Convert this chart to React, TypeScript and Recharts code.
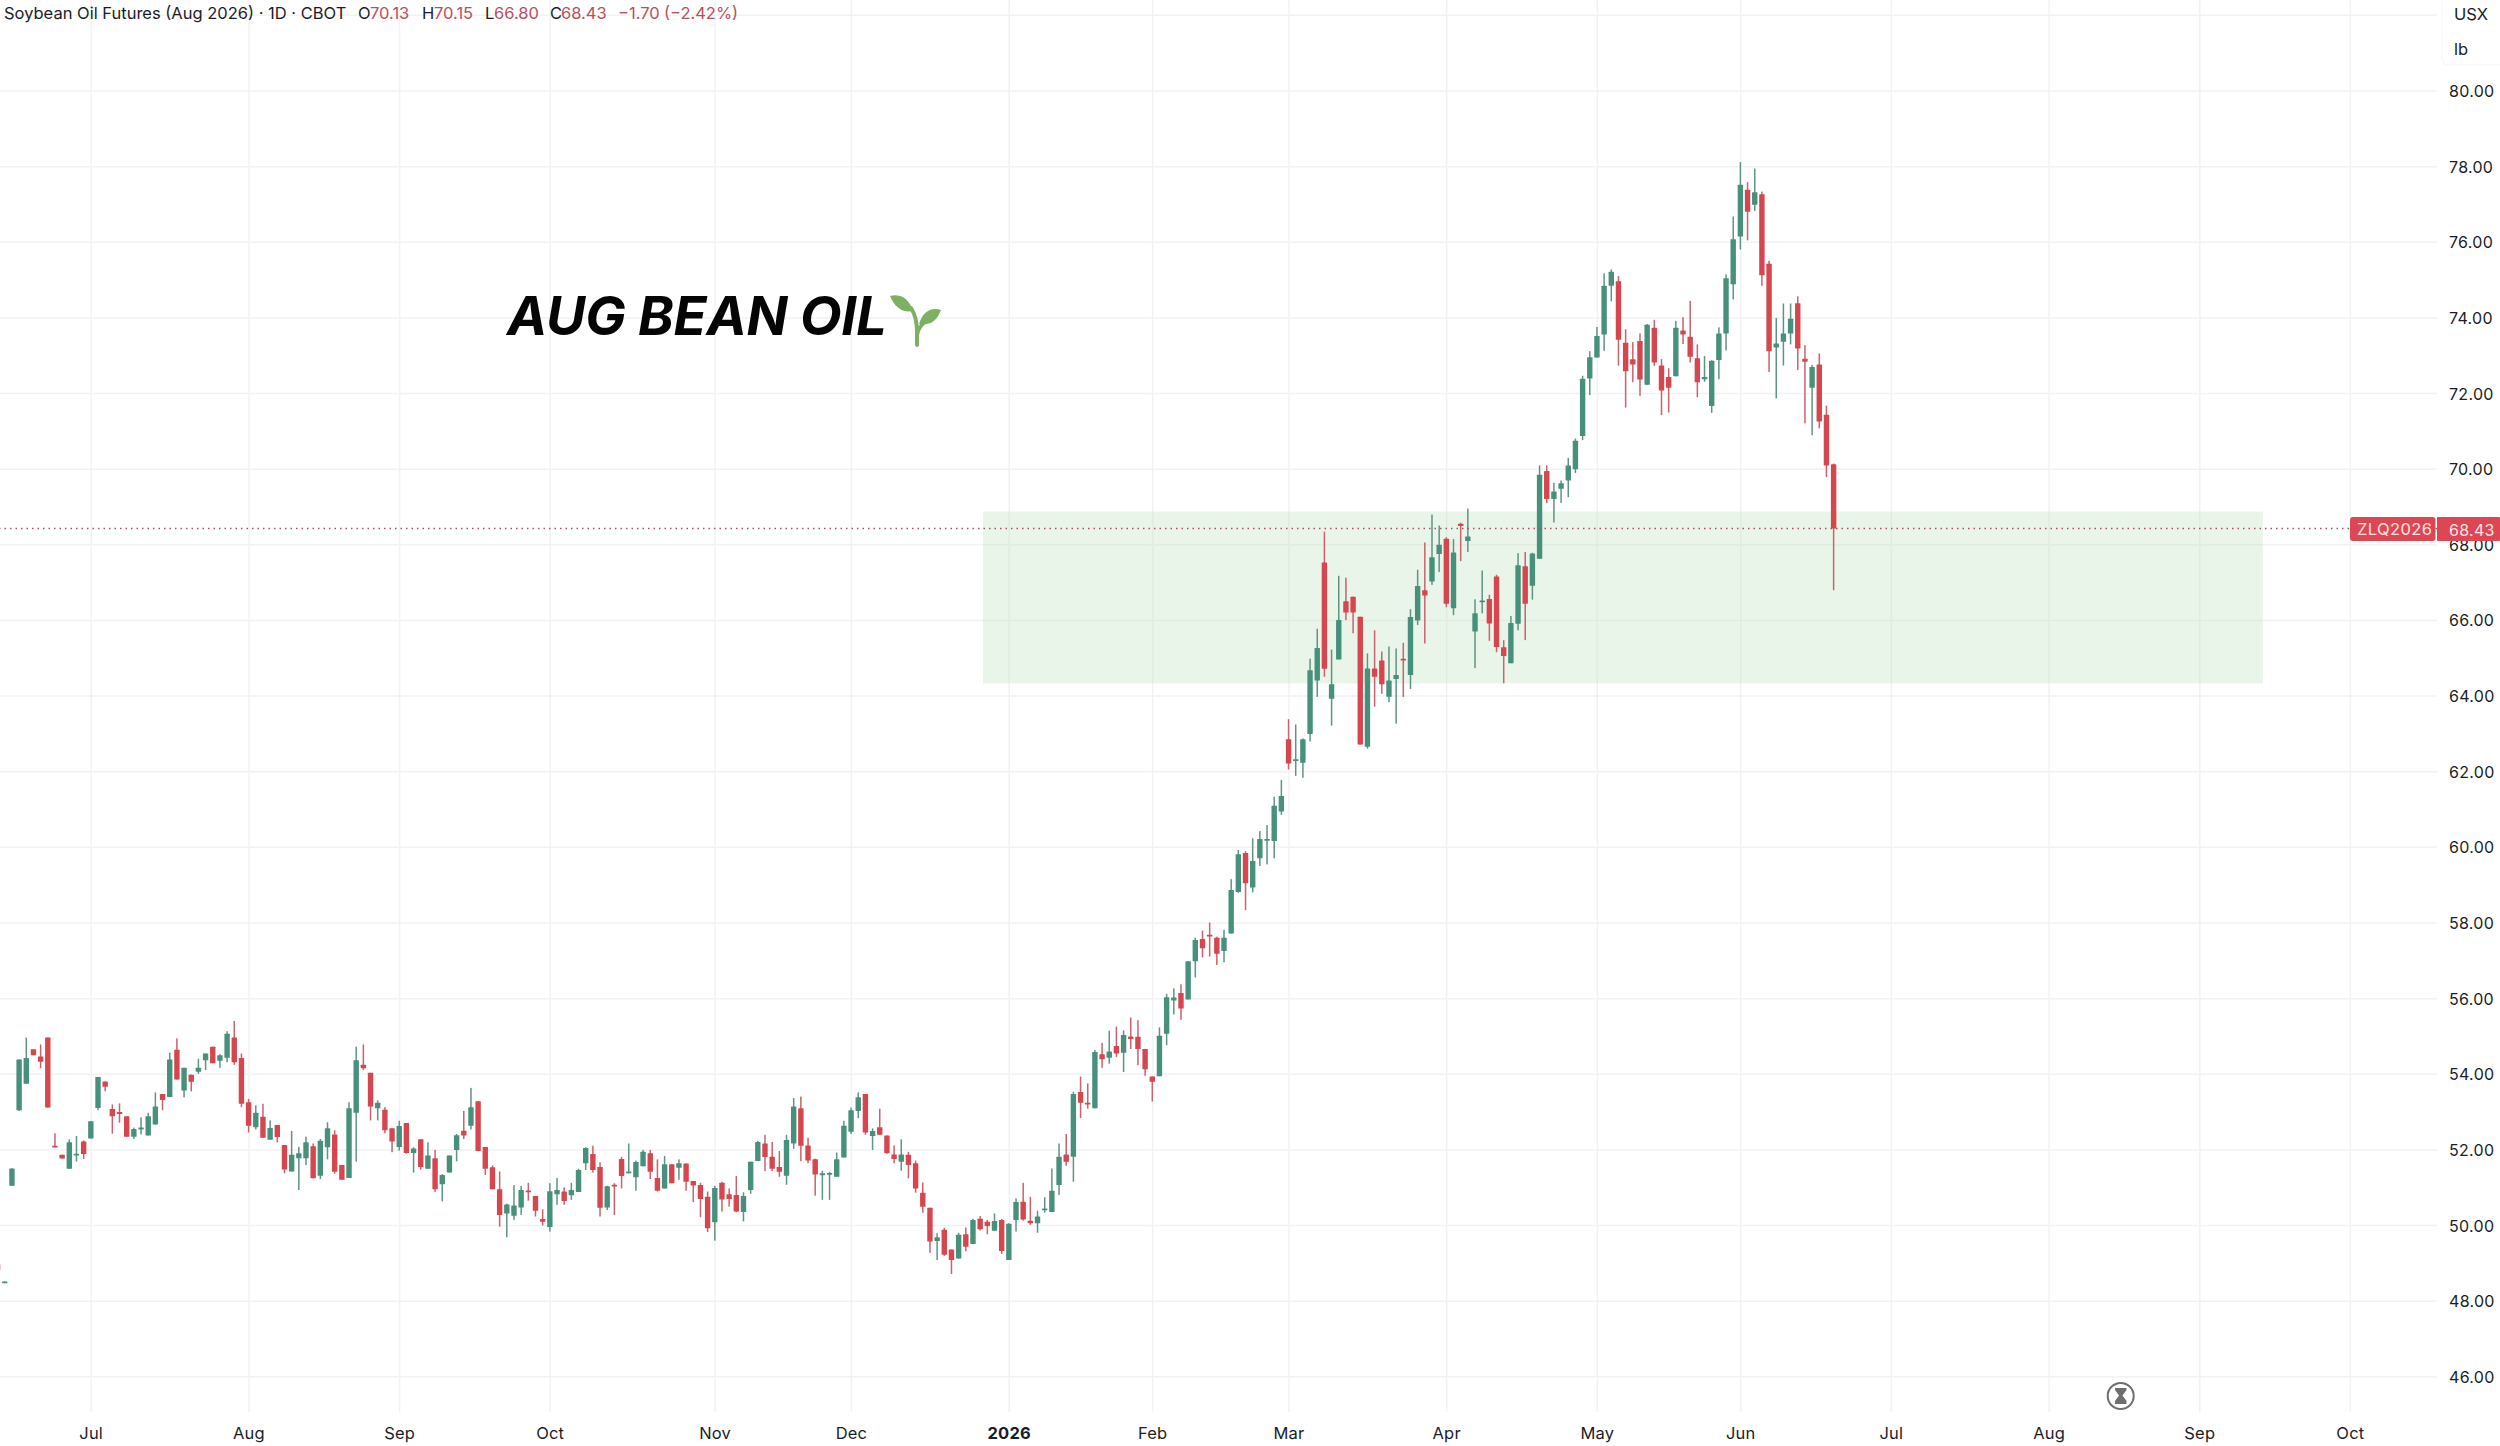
import React from "react";
import { ComposedChart, Bar, XAxis, YAxis, CartesianGrid, ReferenceArea, ReferenceLine } from "recharts";

// Daily OHLC, first entry is two sessions before the first full candle on screen
const opens = [
  48.98,48.48,51.05,53.05,53.75,54.66,54.47,54.97,52.11,51.87,
  51.50,51.87,52.22,52.30,53.11,53.81,53.08,53.00,52.89,52.35,
  52.56,52.38,52.67,53.48,53.40,54.65,53.57,53.99,54.07,54.37,
  54.73,54.36,54.44,54.97,54.43,53.26,52.60,52.88,52.27,52.66,
  52.13,51.43,51.78,51.78,52.10,51.32,52.07,52.41,51.60,51.26,
  52.98,54.25,54.04,53.10,53.06,52.57,52.08,52.71,51.92,52.28,
  51.50,51.78,51.09,51.40,52.00,52.51,52.64,53.29,52.08,51.54,
  50.96,50.32,50.26,50.48,50.93,50.78,50.17,49.96,50.83,50.90,
  50.80,50.89,51.65,51.89,51.55,50.48,51.08,51.76,51.38,51.28,
  51.57,51.91,51.26,50.98,51.62,51.53,51.64,51.18,51.07,50.76,
  50.09,51.13,50.83,50.81,50.36,50.94,51.71,52.17,51.82,51.55,
  51.32,52.17,53.10,52.12,51.75,51.35,51.35,51.29,51.80,52.48,
  53.03,53.48,52.37,52.60,52.38,51.88,51.69,51.87,51.65,50.87,
  50.47,49.59,49.89,49.37,49.13,49.77,49.51,50.18,50.10,49.86,
  50.15,49.09,50.15,50.63,50.13,50.06,50.41,50.36,51.07,51.88,
  51.82,53.53,53.25,53.10,54.53,54.44,54.75,54.57,55.00,54.99,
  54.67,53.94,53.95,55.07,55.95,56.15,55.98,56.99,57.58,57.69,
  57.61,57.26,57.72,58.82,59.85,58.94,59.71,60.18,60.17,60.95,
  62.86,62.29,62.24,63.00,64.41,67.53,63.93,64.97,66.51,66.63,
  66.10,62.66,64.73,64.94,63.98,64.45,64.99,64.56,66.00,66.80,
  67.03,67.76,68.16,66.32,68.56,68.10,65.71,66.49,66.57,67.16,
  65.29,64.87,65.91,67.43,66.92,67.63,69.95,69.21,69.48,69.70,
  70.00,70.88,72.40,72.95,73.56,74.85,74.97,73.34,72.91,73.39,
  72.23,73.74,72.74,72.44,72.46,73.67,73.50,72.93,72.38,71.67,
  72.89,73.59,74.89,76.15,77.39,76.99,77.27,75.43,73.22,73.37,
  73.59,74.39,72.92,72.15,72.77,71.44,70.13,
];
const closes = [
  48.82,48.52,51.51,54.39,54.43,54.50,54.33,53.12,52.07,51.77,
  52.20,51.90,51.89,52.76,53.93,53.67,52.89,52.96,52.35,52.55,
  52.59,52.89,53.15,53.32,54.39,53.86,54.17,53.80,54.17,54.55,
  54.29,54.50,55.07,54.32,53.22,52.64,52.98,52.32,52.58,52.34,
  51.48,51.87,51.91,52.20,51.25,52.24,52.57,51.42,51.21,53.10,
  54.37,54.16,53.15,53.25,52.52,52.22,52.63,51.92,52.04,51.55,
  51.85,50.96,51.34,51.85,52.39,52.38,53.13,51.97,51.50,50.96,
  50.28,50.56,50.53,50.94,50.88,50.39,50.10,50.91,50.94,50.65,
  50.94,51.47,52.05,51.47,50.47,51.04,51.03,51.31,51.43,51.68,
  51.95,51.42,50.92,51.62,51.12,51.65,51.16,51.06,50.70,49.93,
  50.99,50.69,50.70,50.37,50.78,51.69,52.21,51.81,51.50,51.42,
  52.26,53.15,52.11,51.72,51.35,51.38,51.39,51.75,52.64,53.05,
  53.39,52.46,52.50,52.40,51.91,51.76,51.88,51.60,50.98,50.50,
  49.58,49.69,49.23,49.09,49.76,49.44,50.15,49.90,49.99,50.12,
  49.33,50.05,50.62,50.16,50.06,50.24,50.45,50.92,51.82,51.69,
  53.48,53.25,53.20,54.59,54.40,54.60,54.55,55.04,54.93,54.67,
  54.13,53.80,55.02,56.04,56.03,55.74,56.99,57.55,57.33,57.64,
  57.19,57.61,58.87,59.82,59.05,59.64,60.22,60.22,61.10,61.36,
  62.22,62.33,62.86,64.68,65.27,64.72,64.31,66.01,66.21,66.21,
  62.72,64.73,64.51,64.31,64.41,64.56,64.95,66.09,66.91,66.66,
  67.67,68.00,66.44,67.80,68.50,68.22,66.19,66.53,65.92,65.30,
  65.06,65.93,67.46,66.44,67.77,69.85,69.21,69.41,69.63,70.10,
  70.75,72.39,72.96,73.52,74.85,75.22,73.42,72.59,72.77,72.37,
  73.82,72.82,72.08,72.15,73.74,73.56,72.97,72.30,72.44,72.87,
  73.59,75.05,76.08,77.52,76.81,77.32,75.13,73.12,73.32,73.59,
  73.98,73.19,72.84,72.70,71.26,70.10,68.43,
];
const highs = [
  48.98,48.52,51.51,54.39,54.97,54.66,54.79,54.97,52.44,51.87,
  52.28,52.37,52.25,52.76,53.93,53.81,53.20,53.23,52.89,52.59,
  52.86,52.98,53.52,53.48,54.57,54.95,54.17,53.99,54.41,54.55,
  54.73,54.53,55.14,55.41,54.55,53.35,53.18,53.22,52.78,52.66,
  52.13,52.50,52.08,52.35,52.17,52.29,52.73,52.52,51.60,53.26,
  54.73,54.79,54.04,53.31,53.13,52.57,52.77,52.71,52.07,52.28,
  52.20,52.00,51.36,51.85,52.42,53.03,53.64,53.29,52.08,51.59,
  51.43,50.58,51.07,51.05,51.13,50.78,50.43,51.12,51.26,51.01,
  51.13,51.50,52.07,52.11,51.67,51.05,51.12,51.82,52.17,51.72,
  52.00,52.00,51.75,51.84,51.62,51.75,51.64,51.18,51.13,50.90,
  51.05,51.16,50.98,51.31,50.88,51.69,52.24,52.40,52.21,51.97,
  52.40,53.37,53.41,52.32,51.77,51.45,51.42,51.93,52.77,53.12,
  53.52,53.48,52.57,53.09,52.38,52.12,52.28,51.95,51.72,51.14,
  50.47,49.80,49.94,49.37,49.81,49.95,50.18,50.25,50.15,50.32,
  50.17,50.06,50.72,51.13,50.76,50.39,50.75,51.51,52.17,52.42,
  53.54,53.94,53.76,54.64,54.83,55.15,55.26,55.16,55.50,55.43,
  54.67,53.94,55.24,56.13,56.27,56.38,56.99,57.61,57.80,58.01,
  57.64,57.82,59.16,59.93,59.90,60.24,60.43,60.59,61.34,61.78,
  63.39,63.25,62.88,64.99,65.78,68.35,65.23,67.18,67.13,66.63,
  66.10,65.13,65.74,65.18,65.31,65.26,65.41,66.30,67.34,68.06,
  68.80,68.51,68.20,68.15,68.58,68.96,66.56,67.32,66.68,67.21,
  65.48,66.12,67.78,67.81,67.79,70.10,70.10,69.64,69.70,70.30,
  70.81,72.47,73.12,73.76,75.18,75.28,75.11,73.70,73.36,73.59,
  73.84,73.95,72.91,72.67,73.92,74.02,74.45,73.30,72.99,72.88,
  73.75,75.15,76.68,78.12,77.59,77.95,77.34,75.51,74.00,74.38,
  74.38,74.57,73.28,72.76,73.06,71.68,70.15,
];
const lows = [
  48.82,48.48,51.05,53.03,53.75,54.50,54.16,53.12,52.07,51.77,
  51.50,51.69,51.76,52.30,53.05,53.55,52.43,52.72,52.35,52.29,
  52.41,52.38,52.67,53.05,53.40,53.86,53.39,53.55,54.01,54.11,
  54.29,54.17,54.32,54.25,53.13,52.46,52.54,52.32,52.27,52.20,
  51.38,51.43,50.94,51.60,51.25,51.23,51.75,51.37,51.21,51.26,
  51.69,54.11,52.78,52.78,52.44,51.94,51.98,51.90,51.40,51.48,
  51.50,50.89,50.64,51.40,51.70,52.29,52.54,51.97,51.34,50.96,
  49.97,49.69,50.15,50.28,50.66,50.24,50.00,49.84,50.55,50.55,
  50.68,50.89,51.47,51.40,50.24,50.41,50.28,50.98,51.38,50.92,
  51.57,51.23,50.90,50.98,51.12,51.21,50.92,50.62,50.22,49.83,
  49.60,50.37,50.50,50.35,50.11,50.84,51.71,51.44,51.44,51.29,
  51.08,52.03,51.70,51.65,50.79,50.68,50.68,51.29,51.80,52.42,
  52.84,52.40,52.00,52.40,51.90,51.65,51.45,51.25,50.87,50.34,
  49.28,49.09,49.20,48.72,49.13,49.32,49.51,49.87,49.77,49.86,
  49.25,49.09,49.84,50.13,50.02,49.81,50.34,50.36,50.81,51.58,
  51.16,52.84,53.09,53.10,54.17,54.28,54.46,54.06,54.67,54.24,
  53.96,53.28,53.95,54.77,55.58,55.44,55.98,56.56,57.09,57.11,
  56.89,56.96,57.72,58.80,58.34,58.81,59.51,59.55,59.71,60.86,
  62.06,61.89,61.84,62.80,63.98,64.51,63.22,64.97,66.01,65.66,
  62.72,62.61,63.72,64.06,63.84,63.27,63.98,64.19,65.88,65.39,
  66.94,67.28,66.35,66.14,67.57,67.81,64.74,66.19,65.46,65.16,
  64.34,64.87,65.74,65.48,66.55,67.63,69.10,68.59,69.11,69.26,
  69.90,70.77,71.96,72.95,73.13,74.44,72.74,71.63,72.30,71.94,
  72.23,72.73,71.43,71.50,72.46,73.31,72.82,71.90,72.31,71.49,
  72.38,73.14,74.49,75.81,76.05,76.83,74.85,72.57,71.87,72.74,
  73.30,72.62,71.21,70.90,71.08,69.79,66.80,
];

const firstSession = -2;
const monthTicks = [11, 33, 54, 75, 98, 117, 139, 159, 178, 200, 221, 241, 262, 284, 305, 326];
const monthLabels = ["Jul", "Aug", "Sep", "Oct", "Nov", "Dec", "2026", "Feb", "Mar", "Apr", "May", "Jun", "Jul", "Aug", "Sep", "Oct"];
const priceTicks = [46, 48, 50, 52, 54, 56, 58, 60, 62, 64, 66, 68, 70, 72, 74, 76, 78, 80, 82];
const lastClose = 68.43;
const zoneTop = 68.88;
const zoneBottom = 64.33;
const zoneStart = 135.35;
const zoneEnd = 313.8;

const candles = opens.map((open, i) => ({
  session: firstSession + i,
  open,
  close: closes[i],
  range: [lows[i], highs[i]],
}));

const UP = "#47917C";
const DOWN = "#D6464F";
const UP_WICK = "#5F9484";
const DOWN_WICK = "#C9636D";
const TEXT = "#1a1d26";
const FONT = "Inter, sans-serif";

function Candle(props: any) {
  const { x, y, width, height, payload } = props;
  const h = Math.abs(height);
  const [low, high] = payload.range;
  const k = h / (high - low || 1);
  const up = payload.close >= payload.open;
  const top = y + (high - Math.max(payload.open, payload.close)) * k;
  const bodyH = Math.max(Math.abs(payload.close - payload.open) * k, 1.8);
  const cx = x + width / 2;
  return (
    <g>
      <rect x={cx - 0.75} y={y} width={1.5} height={h} fill={up ? UP_WICK : DOWN_WICK} />
      <rect x={cx - 2.7} y={top} width={5.4} height={bodyH} fill={up ? UP : DOWN} rx={0.5} />
    </g>
  );
}

function PriceTick(props: any) {
  const { x, y, payload } = props;
  if (payload.value > 80) return null;
  return (
    <text x={x} y={y} dy={6} fontFamily={FONT} fontSize={16} letterSpacing={0.3} fill={TEXT} textAnchor="start">
      {payload.value.toFixed(2)}
    </text>
  );
}

function MonthTick(props: any) {
  const { x, y, payload } = props;
  const label = monthLabels[monthTicks.indexOf(payload.value)];
  return (
    <text x={x} y={y} dy={13} fontFamily={FONT} fontSize={16.5} letterSpacing={0.2} fill={TEXT} textAnchor="middle" fontWeight={label === "2026" ? 700 : 400}>
      {label}
    </text>
  );
}

const abs = (left: number, top: number, extra: React.CSSProperties = {}): React.CSSProperties => ({
  position: "absolute", left, top, fontFamily: FONT, whiteSpace: "nowrap", ...extra,
});

const legendRed = "#B5505E";
const legend: [string, number, string][] = [
  ["O", 358, TEXT], ["70.13", 370, legendRed], ["H", 422, TEXT], ["70.15", 434, legendRed],
  ["L", 485, TEXT], ["66.80", 494, legendRed], ["C", 550, TEXT], ["68.43", 561, legendRed],
  ["−1.70", 618, legendRed], ["(−2.42%)", 664, legendRed],
];

export default function App() {
  return (
    <div style={{ position: "fixed", left: 0, top: 0, width: 2500, height: 1446, background: "#fff", overflow: "hidden" }}>
      <ComposedChart width={2500} height={1446} data={candles} margin={{ top: 0, right: 0, bottom: 0, left: 0 }}>
        <CartesianGrid stroke="#F1F2F4" strokeWidth={1.5} syncWithTicks />
        <XAxis
          type="number"
          dataKey="session"
          domain={[-1.715, 338.08]}
          ticks={monthTicks}
          interval={0}
          allowDataOverflow
          height={34}
          axisLine={false}
          tickLine={false}
          tickMargin={8}
          tick={<MonthTick />}
        />
        <YAxis
          orientation="right"
          domain={[45.07, 82.406]}
          ticks={priceTicks}
          interval={0}
          allowDataOverflow
          width={63}
          axisLine={false}
          tickLine={false}
          tickMargin={6}
          tick={<PriceTick />}
        />
        <ReferenceArea x1={zoneStart} x2={zoneEnd} y1={zoneBottom} y2={zoneTop} fill="#B9DDB5" fillOpacity={0.3} stroke="none" />
        <ReferenceLine y={lastClose} stroke="#A0555D" strokeWidth={1.4} strokeDasharray="1.5 4" />
        <Bar dataKey="range" barSize={8} shape={<Candle />} isAnimationActive={false} />
      </ComposedChart>

      <div style={abs(4, 3, { fontSize: 16.5, color: TEXT })}>Soybean Oil Futures (Aug 2026) · 1D · CBOT</div>
      {legend.map(([t, left, color], i) => (
        <div key={i} style={abs(left, 3, { fontSize: 16.5, color })}>{t}</div>
      ))}

      <div style={abs(507, 283, { fontSize: 54, fontWeight: 700, fontStyle: "italic", color: "#050505", letterSpacing: -0.25 })}>AUG BEAN OIL</div>
      <svg style={{ position: "absolute", left: 0, top: 0 }} width={2500} height={1446}>
        <path d="M917 345 L917 332 C917 322 915 314 911 308" stroke="#7DB062" strokeWidth={4} strokeLinecap="round" fill="none" />
        <path d="M917 336 C918 329 921 325 925 322" stroke="#7DB062" strokeWidth={3.5} strokeLinecap="round" fill="none" />
        <path d="M890 296 C898 294 908 296 913 311 C903 313 895 308 890 296 Z" fill="#7DB062" />
        <path d="M941 310 C933 307 923 310 919 324 C931 326 937 320 941 310 Z" fill="#7DB062" />
        <circle cx={2120.7} cy={1396} r={13} fill="none" stroke="#6E6E6E" strokeWidth={2} />
        <path d="M2115 1388 H2126.5 V1390 L2122.5 1395.5 L2126.5 1401 V1404 H2115 V1401 L2119 1395.5 L2115 1390 Z" fill="#6E6E6E" />
        <rect x={2442} y={-6} width={64} height={71} rx={6} fill="#fff" stroke="#F5F5F6" />
        <rect x={2350} y={517} width={85.5} height={24} rx={3} fill="#DD4754" />
        <rect x={2437} y={517} width={63} height={24} rx={1} fill="#DD4754" />
      </svg>
      <div style={abs(2454, 4, { fontSize: 16.5, color: TEXT })}>USX</div>
      <div style={abs(2454, 39, { fontSize: 16.5, color: TEXT })}>lb</div>
      <div style={abs(2357, 519, { fontSize: 16.5, color: "#FBE4E4", letterSpacing: 0.4 })}>ZLQ2026</div>
      <div style={abs(2449, 520, { fontSize: 16, color: "#FBE4E4", letterSpacing: 0.3 })}>68.43</div>
    </div>
  );
}
